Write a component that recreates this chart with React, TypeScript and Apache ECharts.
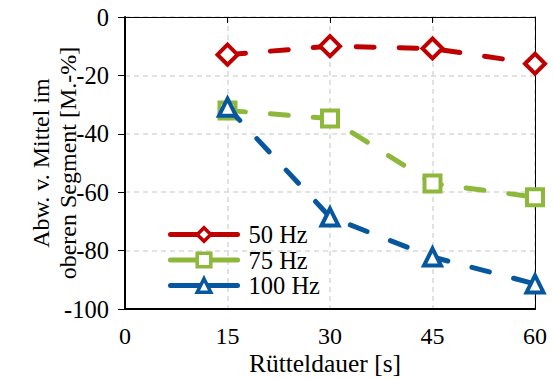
import React, { useEffect, useRef } from "react";
import * as echarts from "echarts";

const durations = [15, 30, 45, 60];
const hz50 = [-12.9, -10.0, -10.8, -16.0];
const hz75 = [-32.0, -34.8, -57.0, -61.7];
const hz100 = [-30.9, -68.5, -82.2, -91.4];
const seriesNames = ["50 Hz", "75 Hz", "100 Hz"];
const colors = ["#C00000", "#8DB83B", "#0756A0"];
const symbols = ["diamond", "rect", "triangle"];
const xTitle = "Rütteldauer [s]";
const yTitle = "Abw. v. Mittel im\noberen Segment [M.-%]";

const FONT = "Liberation Serif";

export default function App() {
  const ref = useRef<HTMLDivElement>(null);
  useEffect(() => {
    if (!ref.current) return;
    const chart = echarts.init(ref.current, null, { renderer: "svg" });
    const values = [hz50, hz75, hz100];
    const symbolSizes = [[20, 20], 16, 17];
    chart.setOption({
      animation: false,
      textStyle: { fontFamily: FONT, color: "#000" },
      grid: { left: 125, right: 18, top: 17, bottom: 70, containLabel: false, outerBoundsMode: "none" },
      legend: {
        orient: "vertical",
        left: 163,
        top: 217,
        itemWidth: 67,
        itemHeight: 17,
        itemGap: 0.5,
        data: seriesNames,
        lineStyle: { width: 5, type: "solid", cap: "round" },
        itemStyle: { borderWidth: 3.5 },
        textStyle: { fontFamily: FONT, fontSize: 24.5, color: "#000", lineHeight: 22, padding: [0, 0, 0, 6] },
      },
      xAxis: [
        {
          type: "value",
          min: 0,
          max: 60,
          interval: 15,
          name: xTitle,
          nameLocation: "middle",
          nameGap: 43,
          nameMoveOverlap: false,
          nameTextStyle: { fontFamily: FONT, fontSize: 25.5, color: "#000", lineHeight: 22, padding: [0, 10, 0, 0] },
          axisLine: { show: true, onZero: false, lineStyle: { color: "#000", width: 2 } },
          axisTick: { show: false },
          axisLabel: { fontFamily: FONT, fontSize: 24, color: "#000", margin: 17, lineHeight: 20 },
          splitLine: { show: true, lineStyle: { color: "#D9D9D9", width: 1.5, type: [5, 4] } },
        },
        {
          type: "value",
          position: "top",
          min: 0,
          max: 60,
          interval: 15,
          axisLine: { show: true, onZero: false, lineStyle: { color: "#000", width: 1 } },
          axisTick: { show: true, inside: true, length: 6, lineStyle: { color: "#000", width: 1 } },
          axisLabel: { show: false },
          splitLine: { show: false },
        },
      ],
      yAxis: [
        {
          type: "value",
          min: -100,
          max: 0,
          interval: 20,
          name: yTitle,
          nameLocation: "middle",
          nameRotate: 90,
          nameGap: 44,
          nameMoveOverlap: false,
          nameTextStyle: { fontFamily: FONT, fontSize: 24, color: "#000", lineHeight: 27 },
          axisLine: { show: true, onZero: false, lineStyle: { color: "#000", width: 2 } },
          axisTick: { show: true, length: 7, lineStyle: { color: "#000", width: 1 } },
          axisLabel: { fontFamily: FONT, fontSize: 24.5, color: "#000", margin: 16 },
          splitLine: { show: true, lineStyle: { color: "#D9D9D9", width: 1.5, type: [5, 4] } },
        },
        {
          type: "value",
          position: "right",
          min: -100,
          max: 0,
          interval: 20,
          axisLine: { show: true, onZero: false, lineStyle: { color: "#000", width: 1 } },
          axisTick: { show: false },
          axisLabel: { show: false },
          splitLine: { show: false },
        },
      ],
      series: seriesNames.map((name, i) => ({
        name,
        type: "line",
        xAxisIndex: 0,
        yAxisIndex: 0,
        data: durations.map((d, j) => [d, values[i][j]]),
        symbol: symbols[i],
        symbolSize: symbolSizes[i],
        showAllSymbol: true,
        clip: false,
        z: 3 + i,
        lineStyle: { color: colors[i], width: 5, type: [18, 25], cap: "round" },
        itemStyle: { color: "#fff", borderColor: colors[i], borderWidth: 4 },
      })),
    });
    return () => chart.dispose();
  }, []);
  return <div ref={ref} style={{ width: 553, height: 379, position: "absolute", left: 0, top: 0 }} />;
}
